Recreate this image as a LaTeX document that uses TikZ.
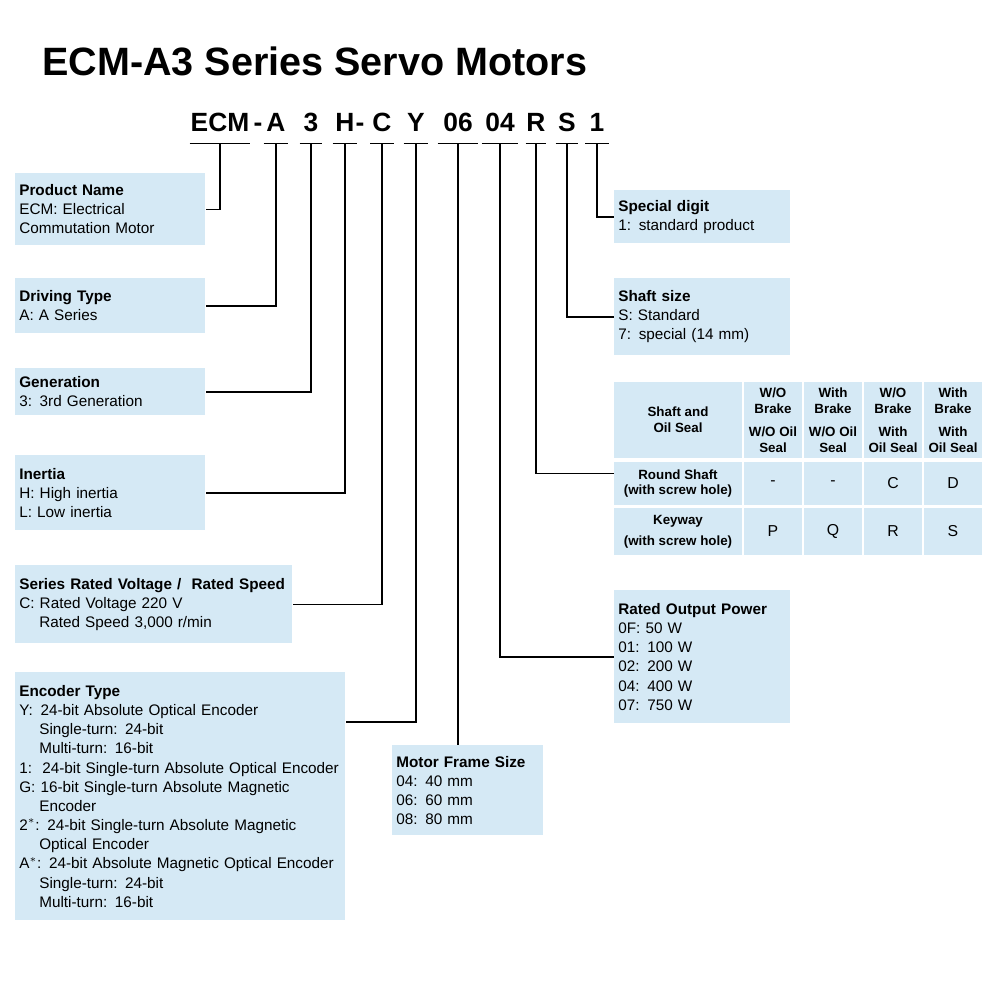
\documentclass[tikz,border=0pt]{standalone}
\usepackage{fontspec}
\setmainfont{Liberation Sans}
\definecolor{boxblue}{HTML}{D5E9F5}
\newcommand\pu{0.2mm}
\newcommand\ind{\hspace*{4mm}}
\tikzset{
  box/.style={fill=boxblue, anchor=north west, align=left, inner sep=4*\pu,
    font=\fontsize{8.7}{10.9}\selectfont},
  code/.style={font=\bfseries\fontsize{15}{15}\selectfont, inner sep=0pt,
    anchor=base, text depth=0pt, minimum height=0pt},
  link/.style={line width=0.9pt},
  cell/.style={fill=boxblue, inner sep=0pt, align=center,
    font=\bfseries\fontsize{7.6}{9}\selectfont},
  val/.style={fill=boxblue, inner sep=0pt, font=\fontsize{9}{10}\selectfont},
}
\begin{document}
\begin{tikzpicture}[x=\pu, y=-\pu]
\useasboundingbox (0,0) rectangle (1000,1000);
\node[anchor=base west, font=\bfseries\fontsize{22.5}{24}\selectfont, inner sep=0pt]
  (title) at (42,75) {ECM-A3 Series Servo Motors};
% model code
\foreach \name/\txt/\x/\w in {cE/ECM/220/60, cA/A/276/24, c3/3/311/22, cH/H/345/24,
    cC/C/382/23, cY/Y/416/24, c06/06/458/40, c04/04/500/36, cR/R/536/20,
    cS/S/567/22, c1/1/597/23}{
  \node[code, minimum width=\w*\pu] (\name) at (\x,131) {\txt};
  \draw[link] ([yshift=-2.5mm]\name.base west) -- ([yshift=-2.5mm]\name.base east);
}
\node[code] (d1) at (258,131) {-};
\node[code] (d2) at (360,131) {-};
% boxes on the left
\node[box, text width=182*\pu, minimum height=72*\pu] (prod) at (15,173)
  {\textbf{Product Name}\\ECM: Electrical\\Commutation Motor};
\node[box, text width=182*\pu, minimum height=55*\pu] (drv) at (15,278)
  {\textbf{Driving Type}\\A: A Series};
\node[box, text width=182*\pu, minimum height=47*\pu] (gen) at (15,368)
  {\textbf{Generation}\\3: 3rd Generation};
\node[box, text width=182*\pu, minimum height=75*\pu] (inr) at (15,455)
  {\textbf{Inertia}\\H: High inertia\\L: Low inertia};
\node[box, text width=269*\pu, minimum height=78*\pu] (volt) at (15,565)
  {\textbf{Series Rated Voltage / \ Rated Speed}\\C: Rated Voltage 220 V\\\ind Rated Speed 3,000 r/min};
\node[box, text width=322*\pu, minimum height=248*\pu] (enc) at (15,672)
  {\textbf{Encoder Type}\\Y:\, 24-bit Absolute Optical Encoder\\\ind Single-turn: 24-bit\\\ind Multi-turn: 16-bit\\
   1:\, 24-bit Single-turn Absolute Optical Encoder\\G: 16-bit Single-turn Absolute Magnetic\\\ind Encoder\\
   2$^{*}$: 24-bit Single-turn Absolute Magnetic\\\ind Optical Encoder\\A$^{*}$: 24-bit Absolute Magnetic Optical Encoder\\
   \ind Single-turn: 24-bit\\\ind Multi-turn: 16-bit};
\node[box, text width=143*\pu, minimum height=90*\pu] (frm) at (392,745)
  {\textbf{Motor Frame Size}\\04: 40 mm\\06: 60 mm\\08: 80 mm};
% boxes on the right
\node[box, text width=168*\pu, minimum height=53*\pu] (spc) at (614,190)
  {\textbf{Special digit}\\1: standard product};
\node[box, text width=168*\pu, minimum height=77*\pu] (shf) at (614,278)
  {\textbf{Shaft size}\\S: Standard\\7: special (14 mm)};
\node[box, text width=168*\pu, minimum height=133*\pu] (pwr) at (614,590)
  {\textbf{Rated Output Power}\\0F: 50 W\\01: 100 W\\02: 200 W\\04: 400 W\\07: 750 W};
% shaft and oil seal table
\node[cell, minimum width=128*\pu, minimum height=76*\pu] (hd) at (678,420) {Shaft and\\Oil Seal};
\foreach \name/\x/\ta/\tb in {h1/773/W/O/W/O Oil, h2/833/With/W/O Oil,
    h3/893/W/O/With, h4/953/With/With}{}
\node[cell, minimum width=58*\pu, minimum height=76*\pu] (h1) at (773,420) {W/O\\Brake\\[1.5mm]W/O Oil\\Seal};
\node[cell, minimum width=58*\pu, minimum height=76*\pu] (h2) at (833,420) {With\\Brake\\[1.5mm]W/O Oil\\Seal};
\node[cell, minimum width=58*\pu, minimum height=76*\pu] (h3) at (893,420) {W/O\\Brake\\[1.5mm]With\\Oil Seal};
\node[cell, minimum width=58*\pu, minimum height=76*\pu] (h4) at (953,420) {With\\Brake\\[1.5mm]With\\Oil Seal};
\node[cell, minimum width=128*\pu, minimum height=43*\pu] (rnd) at (678,483.5) {Round Shaft\\(with screw hole)};
\node[cell, minimum width=128*\pu, minimum height=47*\pu] (key) at (678,531.5) {Keyway\\[1mm](with screw hole)};
\foreach \v [count=\i] in {-,-,C,D}
  \node[val, minimum width=58*\pu, minimum height=43*\pu] (r\i) at (713+60*\i,483.5) {\v};
\foreach \v [count=\i] in {P,Q,R,S}
  \node[val, minimum width=58*\pu, minimum height=47*\pu] (k\i) at (713+60*\i,531.5) {\v};
% connectors
\draw[link] ([yshift=-2.5mm]cE.base) |- (prod.east);
\draw[link] ([yshift=-2.5mm]cA.base) |- (drv.east);
\draw[link] ([yshift=-2.5mm]c3.base) |- (gen.east);
\draw[link] ([yshift=-2.5mm]cH.base) |- (inr.east);
\draw[link] ([yshift=-2.5mm]cC.base) |- (volt.east);
\draw[link] ([yshift=-2.5mm]cY.base) |- ([yshift=-50*\pu]enc.north east);
\draw[link] ([yshift=-2.5mm]c06.base) -- (c06.base |- frm.north);
\draw[link] ([yshift=-2.5mm]c04.base) |- (pwr.west);
\draw[link] ([yshift=-2.5mm]cR.base) |- ([yshift=2mm]rnd.west);
\draw[link] ([yshift=-2.5mm]cS.base) |- (shf.west);
\draw[link] ([yshift=-2.5mm]c1.base) |- (spc.west);
\end{tikzpicture}
\end{document}
